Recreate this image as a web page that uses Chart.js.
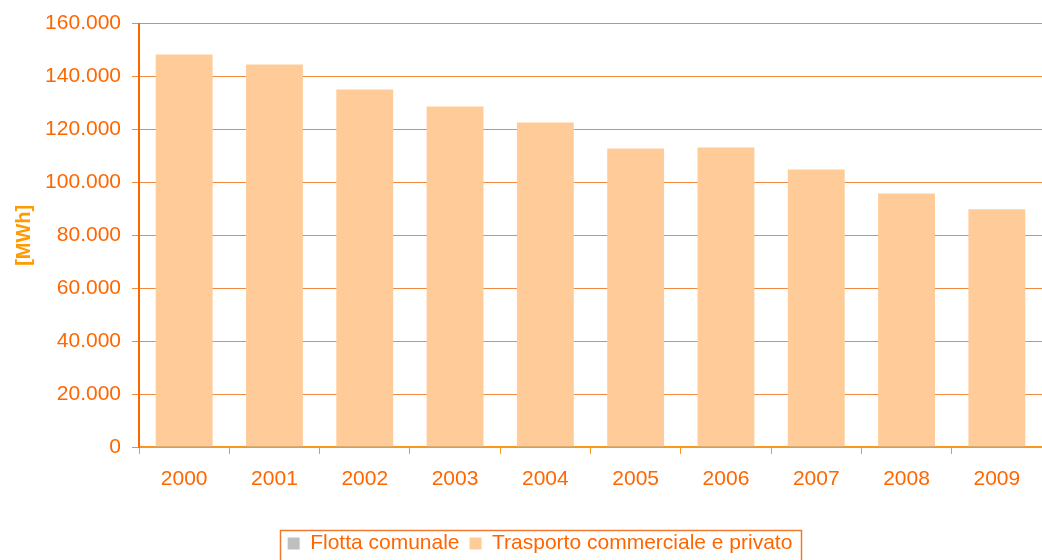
<!DOCTYPE html>
<html>
<head>
<meta charset="utf-8">
<script src="https://cdn.jsdelivr.net/npm/chart.js@4"></script>
<style>
html,body{margin:0;padding:0;background:#fff;}
#wrap{width:1042px;height:560px;}
</style>
</head>
<body>
<div id="wrap"><canvas id="c" width="1042" height="560"></canvas></div>
<script>
const years = ['2000','2001','2002','2003','2004','2005','2006','2007','2008','2009'];
const flottaComunale = [400, 400, 400, 400, 400, 400, 400, 400, 400, 400];
const trasporto = [147900, 144100, 134700, 128300, 122200, 112400, 112800, 104500, 95400, 89400];
const yTicks = [0, 20000, 40000, 60000, 80000, 100000, 120000, 140000, 160000];

const ORANGE = '#FF6600';
const GRID = '#F08A40';
const XAXIS = '#F8981D';
const FONT = 'Liberation Sans, Arial, sans-serif';

const legendShift = {
  id: 'legendShift',
  afterLayout(chart) {
    const lg = chart.legend;
    if (!lg) return;
    lg.left += 19; lg.right += 19;
  }
};

const legendBox = {
  id: 'legendBox',
  afterDraw(chart) {
    const lg = chart.legend;
    if (!lg || !lg.legendHitBoxes || !lg.legendHitBoxes.length) return;
    let minX = Infinity, maxX = -Infinity, minY = Infinity;
    lg.legendHitBoxes.forEach(b => {
      minX = Math.min(minX, b.left); maxX = Math.max(maxX, b.left + b.width);
      minY = Math.min(minY, b.top);
    });
    const ctx = chart.ctx;
    ctx.save();
    ctx.strokeStyle = '#F07A30';
    ctx.lineWidth = 1.5;
    ctx.strokeRect(Math.round(minX - 8) + 0.5, Math.round(minY - 3) + 0.5, Math.round(maxX - minX + 16), 60);
    ctx.restore();
  }
};

new Chart(document.getElementById('c'), {
  type: 'bar',
  data: {
    labels: years,
    datasets: [
      { label: 'Flotta comunale', data: flottaComunale, backgroundColor: '#BFBFBF', borderWidth: 0, categoryPercentage: 0.63, barPercentage: 1.0 },
      { label: 'Trasporto commerciale e privato', data: trasporto, backgroundColor: '#FFCC99', borderWidth: 0, categoryPercentage: 0.63, barPercentage: 1.0 }
    ]
  },
  options: {
    responsive: false,
    animation: false,
    layout: { padding: { top: 21, right: 0, left: 0, bottom: -4 } },
    plugins: {
      tooltip: { enabled: false },
      legend: {
        position: 'bottom',
        labels: {
          color: ORANGE,
          font: { family: FONT, size: 21 },
          boxWidth: 12, boxHeight: 12,
          padding: 10,
          generateLabels(chart) {
            return chart.data.datasets.map((ds, i) => ({
              text: ds.label, fillStyle: ds.backgroundColor, strokeStyle: ds.backgroundColor,
              lineWidth: 0, hidden: false, datasetIndex: i, fontColor: ORANGE
            }));
          }
        }
      }
    },
    scales: {
      x: {
        stacked: true,
        offset: true,
        border: { color: XAXIS, width: 2 },
        grid: { offset: true, drawOnChartArea: false, drawTicks: true, tickLength: 7, color: XAXIS },
        ticks: { color: ORANGE, font: { family: FONT, size: 21 }, padding: 13 },
        afterFit(s) { s.height = 76; }
      },
      y: {
        stacked: true,
        min: 0, max: 160000,
        afterBuildTicks(s) { s.ticks = yTicks.map(v => ({ value: v })); },
        border: { color: ORANGE, width: 2 },
        grid: { color: GRID, lineWidth: 1, tickLength: 7, drawTicks: true },
        ticks: {
          color: ORANGE, font: { family: FONT, size: 21 }, padding: 11,
          callback: v => v === 0 ? '0' : v.toLocaleString('it-IT').replace(/,/g, '.')
        },
        title: { display: true, text: '[MWh]', color: '#FF9A00', font: { family: FONT, size: 20, weight: 'bold' }, padding: { top: 12, bottom: 0 } },
        afterFit(s) { s.width = 139; }
      }
    }
  },
  plugins: [legendShift, legendBox]
});
</script>
</body>
</html>
